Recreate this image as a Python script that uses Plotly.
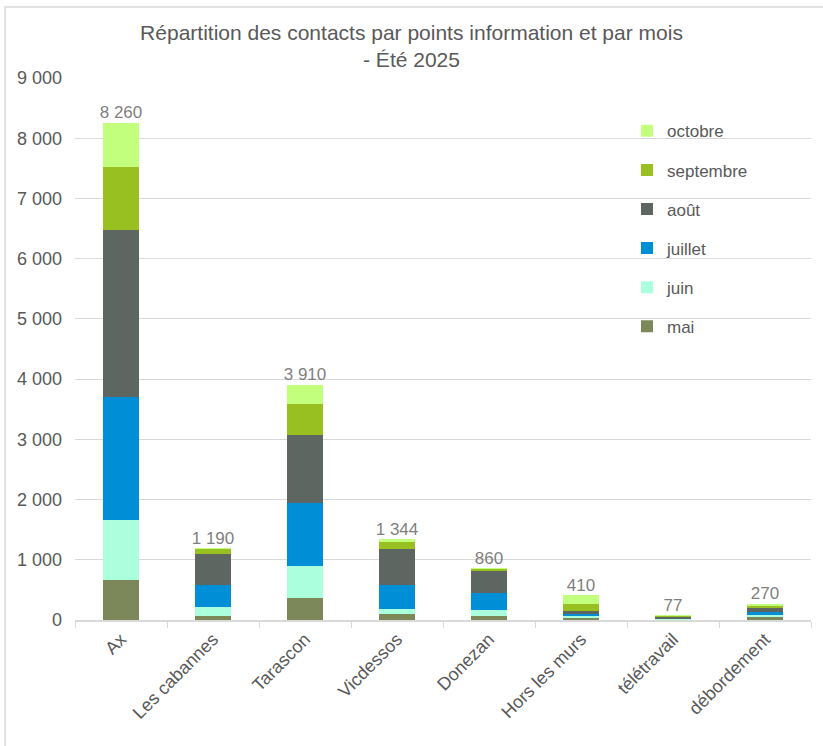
import plotly.graph_objects as go

points = ["Ax", "Les cabannes", "Tarascon", "Vicdessos", "Donezan",
          "Hors les murs", "télétravail", "débordement"]

mai = [660, 70, 360, 100, 70, 30, 10, 50]
juin = [1000, 150, 540, 80, 100, 40, 7, 40]
juillet = [2040, 360, 1040, 400, 280, 30, 15, 50]
aout = [2770, 520, 1130, 600, 370, 55, 25, 60]
septembre = [1050, 80, 520, 120, 30, 115, 10, 35]
octobre = [740, 10, 320, 44, 10, 140, 10, 35]

totals = [8260, 1190, 3910, 1344, 860, 410, 77, 270]
total_labels = ["8 260", "1 190", "3 910", "1 344", "860", "410", "77", "270"]

series = [
    ("mai", mai, "#7D885A"),
    ("juin", juin, "#ABFFDD"),
    ("juillet", juillet, "#008FD6"),
    ("août", aout, "#5D6660"),
    ("septembre", septembre, "#97C020"),
    ("octobre", octobre, "#C2FF7C"),
]

fig = go.Figure()

for i, (name, values, color) in enumerate(series):
    fig.add_trace(go.Bar(
        x=points,
        y=values,
        name=name,
        legendgroup=name,
        legendrank=100 - i,  # octobre first in the legend
        marker=dict(color=color, line=dict(width=0)),
    ))

# totals above each stack
fig.add_trace(go.Scatter(
    x=points,
    y=totals,
    mode="text",
    text=total_labels,
    textposition="top center",
    textfont=dict(size=17, color="#7F7F7F", family="Arial, Liberation Sans, sans-serif"),
    showlegend=False,
    hoverinfo="skip",
))

fig.update_layout(
    width=823,
    height=746,
    margin=dict(l=75, r=12, t=78, b=126),
    barmode="stack",
    bargap=0.61,
    plot_bgcolor="white",
    paper_bgcolor="white",
    separators=", ",
    font=dict(family="Arial, Liberation Sans, sans-serif", color="#595959", size=17),
    title=dict(
        text="Répartition des contacts par points information et par mois<br>- Été 2025",
        x=0.5,
        xanchor="center",
        y=0.947,
        yanchor="top",
        font=dict(size=21, color="#595959"),
    ),
    legend=dict(
        traceorder="grouped",
        x=0.75,
        xanchor="left",
        y=0.935,
        yanchor="top",
        bgcolor="rgba(0,0,0,0)",
        font=dict(size=17, color="#595959"),
        tracegroupgap=14,
        itemwidth=30,
    ),
    shapes=[dict(
        type="rect", xref="paper", yref="paper",
        x0=-0.095, x1=1.05, y0=-0.3, y1=1.131,
        line=dict(color="#D9D9D9", width=1.5),
        fillcolor="rgba(0,0,0,0)",
        layer="below",
    )],
)

fig.update_xaxes(
    tickangle=-45,
    showline=True,
    linecolor="#D9D9D9",
    linewidth=1.5,
    ticks="outside",
    tickson="boundaries",
    ticklen=6,
    tickcolor="#D9D9D9",
    tickfont=dict(size=18, color="#595959"),
    showgrid=False,
)

fig.update_yaxes(
    range=[0, 9000],
    dtick=1000,
    tickformat=",d",
    showgrid=True,
    gridcolor="#D9D9D9",
    gridwidth=1.2,
    zeroline=False,
    showline=False,
    ticks="",
    tickfont=dict(size=18, color="#595959"),
    ticklabelstandoff=12,
)

fig.write_html("out.html", config={"displayModeBar": False},
               post_script="document.body.style.margin='0';")
